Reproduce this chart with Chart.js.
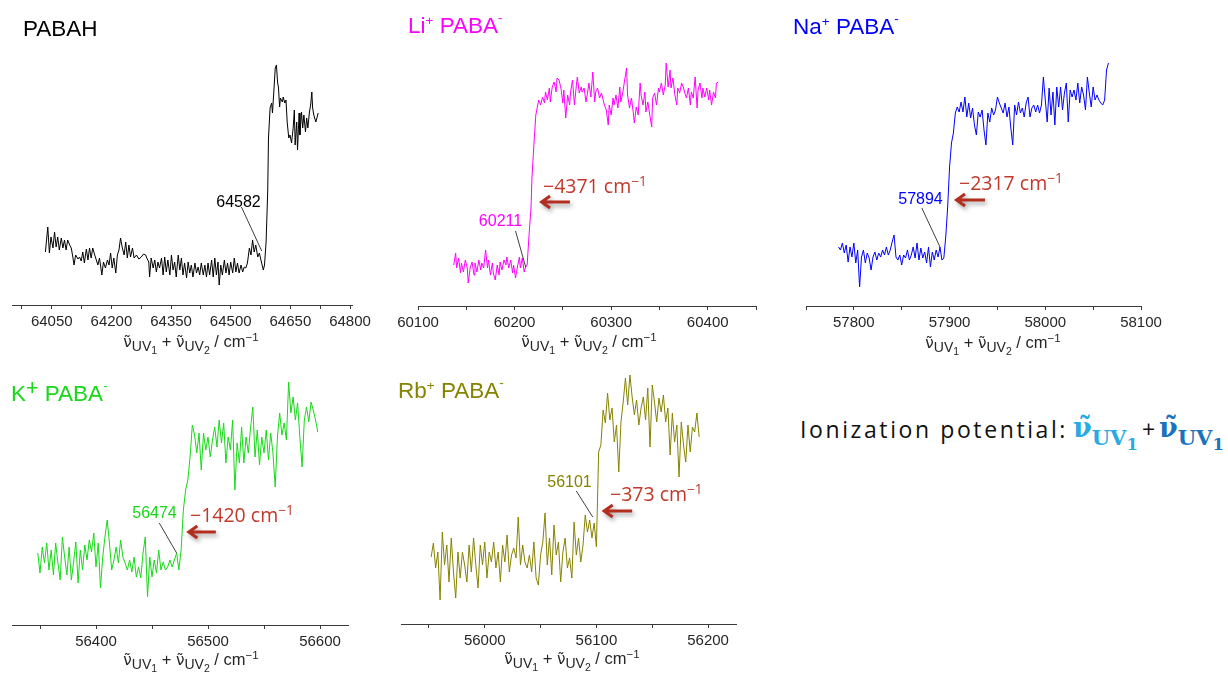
<!DOCTYPE html>
<html><head><meta charset="utf-8">
<script src="https://cdn.jsdelivr.net/npm/chart.js@4/dist/chart.umd.min.js"></script>
<style>
html,body{margin:0;padding:0;background:#fff;}
body{width:1228px;height:674px;overflow:hidden;position:relative;}
canvas{position:absolute;}
.t{position:absolute;white-space:nowrap;line-height:1;}
.t sup,.t sub{line-height:0;}
.ps{font-size:0.6em;vertical-align:0.62em;}
.pm{font-size:0.6em;vertical-align:0.8em;}
.pk{font-size:0.95em;vertical-align:0.3em;}
.nu{font-family:'DejaVu Sans',sans-serif;font-size:0.92em;}
.a1{font-size:0.85em;vertical-align:-0.28em;}
.a2{font-size:0.75em;vertical-align:-0.3em;}
.a3{font-size:0.7em;vertical-align:0.55em;}
.r3{font-size:0.7em;vertical-align:0.55em;}
.f1s{font-size:0.78em;vertical-align:-0.4em;}
.f2s{font-size:0.78em;vertical-align:-0.3em;}
</style></head><body>
<script>
// ---------------- data (x: wavenumber / cm^-1, y: ion signal, arb. units) ----------------
const pabahX = [64034,64040,64044,64048,64053,64057,64061,64065,64069,64074,64078,64082,64086,64090,64095,64099,64103,64106,64110,64116,64120,64124,64128,64132,64137,64141,64145,64149,64153,64158,64162,64166,64170,64176,64180,64185,64190,64194,64198,64202,64206,64211,64215,64219,64223,64227,64232,64236,64240,64244,64248,64253,64257,64263,64269,64275,64281,64286,64289,64294,64296,64300,64305,64309,64313,64317,64321,64326,64330,64334,64338,64342,64347,64351,64355,64359,64363,64368,64372,64376,64380,64384,64389,64393,64397,64401,64405,64410,64414,64418,64422,64426,64431,64435,64439,64443,64447,64452,64456,64460,64464,64468,64471,64475,64479,64484,64488,64492,64496,64500,64505,64509,64513,64517,64521,64526,64530,64534,64538,64542,64547,64551,64555,64559,64563,64568,64572,64576,64582,64585,64589,64593,64595,64599,64603,64605,64609,64612,64615,64618,64620,64623,64625,64630,64632,64636,64639,64642,64646,64649,64653,64657,64660,64662,64666,64668,64672,64674,64678,64681,64684,64688,64691,64694,64698,64701,64704,64706,64709,64714,64720];
const pabahY = [53,78,52,68,57,73,58,68,55,67,57,65,55,65,60,57,48,40,50,46,48,44,53,42,56,45,57,47,57,50,45,40,47,30,43,37,45,40,52,37,47,32,50,55,67,58,50,63,47,60,48,57,47,50,46,48,51,50,47,43,28,47,37,45,33,43,37,47,30,48,33,45,30,50,35,43,28,50,35,47,30,42,27,43,32,40,28,42,32,38,30,42,30,40,28,42,30,45,28,47,30,43,20,40,30,45,32,42,30,43,32,47,33,42,32,40,33,38,37,42,57,50,65,53,60,48,52,45,35,40,63,113,167,197,202,192,217,237,240,222,218,198,207,203,208,202,205,183,167,170,162,177,195,160,183,155,192,170,193,177,190,173,187,177,193,200,213,197,190,183,192];

const liX = [60137,60139,60140,60142,60144,60145,60147,60149,60151,60152,60154,60156,60158,60159,60161,60163,60165,60166,60168,60170,60172,60173,60175,60177,60178,60180,60182,60184,60185,60187,60189,60191,60192,60194,60196,60198,60199,60201,60203,60205,60206,60208,60210,60211,60213,60215,60217,60218,60220,60222,60224,60225,60227,60229,60231,60232,60234,60236,60237,60239,60241,60243,60244,60246,60248,60250,60251,60253,60255,60257,60258,60260,60262,60264,60265,60267,60269,60270,60272,60274,60276,60277,60279,60281,60283,60284,60286,60288,60290,60291,60293,60295,60297,60298,60300,60302,60303,60305,60307,60309,60310,60312,60314,60316,60317,60319,60321,60323,60324,60326,60328,60330,60331,60333,60335,60336,60338,60340,60342,60343,60345,60347,60349,60350,60352,60354,60356,60357,60359,60361,60362,60364,60366,60368,60369,60371,60373,60375,60376,60378,60380,60382,60383,60385,60387,60389,60390,60392,60394,60395,60397,60399,60401,60402,60404,60406,60408,60409,60411];
const liY = [41,53,38,48,33,43,34,46,38,23,38,44,31,43,34,46,36,43,38,56,38,46,31,43,33,26,41,31,44,36,46,41,49,38,46,33,41,28,39,49,38,48,34,38,41,71,98,128,161,191,201,206,201,209,203,214,206,218,204,219,224,214,228,226,218,203,216,188,211,201,214,226,201,221,229,213,219,214,218,204,216,223,209,234,204,214,218,208,213,209,201,196,181,201,191,208,201,211,198,219,204,213,226,238,211,198,208,193,183,199,191,223,211,201,214,194,204,191,179,208,213,201,218,214,223,211,221,243,219,236,218,228,211,201,218,213,223,218,214,208,218,201,214,208,229,198,216,223,208,218,209,218,206,216,201,214,208,223,224];

const naX = [57784,57786,57788,57790,57792,57794,57796,57798,57800,57802,57804,57806,57808,57810,57812,57814,57816,57818,57820,57822,57824,57826,57828,57830,57832,57834,57836,57838,57840,57842,57844,57846,57848,57850,57852,57854,57856,57858,57860,57862,57864,57866,57868,57870,57872,57874,57876,57878,57880,57882,57884,57886,57888,57890,57892,57894,57896,57898,57900,57902,57904,57906,57908,57910,57912,57914,57916,57918,57920,57922,57924,57926,57928,57930,57932,57934,57936,57938,57940,57942,57944,57946,57948,57950,57952,57954,57956,57958,57960,57962,57964,57966,57968,57970,57972,57974,57976,57978,57980,57982,57984,57986,57988,57990,57992,57994,57996,57998,58000,58002,58004,58006,58008,58010,58012,58014,58016,58018,58020,58022,58024,58026,58028,58030,58032,58034,58036,58038,58040,58042,58044,58046,58048,58050,58052,58054,58056,58058,58060,58062,58064,58066];
const naY = [59,56,63,53,61,44,59,49,63,43,56,19,49,56,43,53,48,36,49,54,46,53,49,56,51,59,51,56,64,71,49,46,51,41,51,48,56,46,51,59,48,63,46,58,48,54,43,59,39,54,46,56,49,59,46,48,69,99,139,163,173,193,199,194,204,194,209,189,203,188,198,181,171,194,189,196,176,161,193,184,198,191,196,209,203,198,193,203,189,199,178,161,201,191,204,193,198,189,203,209,189,198,201,194,201,193,201,229,206,184,218,191,214,181,219,199,219,196,213,223,184,216,209,216,206,223,203,219,211,196,229,213,199,219,206,211,206,203,201,206,236,243];

const kX = [56348,56350,56352,56354,56356,56358,56360,56362,56364,56366,56368,56370,56372,56374,56376,56378,56380,56382,56384,56386,56388,56390,56392,56394,56396,56398,56400,56402,56404,56406,56408,56410,56412,56414,56416,56418,56420,56422,56424,56426,56428,56430,56432,56434,56436,56438,56440,56442,56444,56446,56448,56450,56452,56454,56456,56458,56460,56462,56464,56466,56468,56470,56472,56474,56476,56478,56480,56482,56484,56486,56488,56490,56492,56494,56496,56498,56500,56502,56504,56506,56508,56510,56512,56514,56516,56518,56520,56522,56524,56526,56528,56530,56532,56534,56536,56538,56540,56542,56544,56546,56548,56550,56552,56554,56556,56558,56560,56562,56564,56566,56568,56570,56572,56574,56576,56578,56580,56582,56584,56586,56588,56590,56592,56594,56596,56598];
const kY = [72,52,78,62,82,55,75,50,82,62,45,88,68,50,78,45,63,83,42,75,55,80,65,85,73,92,58,82,37,68,88,105,82,55,65,78,62,85,68,62,55,65,53,68,48,58,47,72,88,28,68,48,65,52,75,55,63,55,58,65,58,65,72,55,75,115,135,145,168,200,190,172,192,155,192,175,188,168,185,198,178,205,182,202,162,188,175,205,135,182,162,198,162,188,172,197,218,168,195,160,188,172,195,165,192,172,138,188,212,190,202,185,243,212,228,205,222,188,158,205,218,203,223,215,205,193];

const rbX = [55952,55954,55956,55958,55960,55962,55964,55966,55968,55970,55972,55974,55976,55978,55980,55982,55984,55986,55988,55990,55992,55994,55996,55998,56000,56002,56004,56006,56008,56010,56012,56014,56016,56018,56020,56022,56024,56026,56028,56030,56032,56034,56036,56038,56040,56042,56044,56046,56048,56050,56052,56054,56056,56058,56060,56062,56064,56066,56068,56070,56072,56074,56076,56078,56080,56082,56084,56086,56088,56090,56092,56094,56096,56098,56100,56102,56104,56106,56108,56110,56112,56114,56116,56118,56120,56122,56124,56126,56128,56130,56132,56134,56136,56138,56140,56142,56144,56146,56148,56150,56152,56154,56156,56158,56160,56162,56164,56166,56168,56170,56172,56174,56176,56178,56180,56182,56184,56186,56188,56190,56192];
const rbY = [67,81,56,72,24,92,59,79,42,86,52,26,72,46,72,59,42,79,52,86,59,36,79,59,82,46,72,62,82,56,72,42,79,62,89,52,69,76,66,107,59,79,62,56,69,52,82,46,39,69,82,111,59,86,49,99,69,82,42,72,86,56,66,46,102,69,86,62,79,109,92,104,86,101,77,172,179,214,201,231,204,216,182,199,152,202,222,246,219,249,227,209,224,199,216,227,204,236,177,239,222,202,226,212,229,202,216,169,211,182,199,147,202,179,162,199,172,197,192,211,187];

// tick values and labelled ticks
const pabahTicks = [63975,64050,64125,64200,64275,64350,64425,64500,64575,64650,64725,64800];
const pabahLabels = [64050,64200,64350,64500,64650,64800];
const liTicks = [60100,60150,60200,60250,60300,60350,60400,60450];
const liLabels = [60100,60200,60300,60400];
const naTicks = [57750,57800,57850,57900,57950,58000,58050,58100];
const naLabels = [57800,57900,58000,58100];
const kTicks = [56350,56400,56450,56500,56550,56600];
const kLabels = [56400,56500,56600];
const rbTicks = [55950,56000,56050,56100,56150,56200];
const rbLabels = [56000,56100,56200];

// thresholds and shifts (text)
const thresholds = ['64582','60211','57894','56474','56101'];
const shifts = ['\u22124371','\u22122317','\u22121420','\u2212373'];

// ---------------- drawing ----------------
const PAD = 30, AXH = 30, YMAX = 270;

function markPlugin(m) {
  return {
    id: 'marks',
    afterDatasetsDraw(chart) {
      const ctx = chart.ctx, xs = chart.scales.x, ys = chart.scales.y;
      ctx.save();
      if (m.leader) {
        ctx.strokeStyle = '#2a2a2a'; ctx.lineWidth = 0.9;
        ctx.beginPath();
        ctx.moveTo(xs.getPixelForValue(m.leader[0]), ys.getPixelForValue(m.leader[1]));
        ctx.lineTo(xs.getPixelForValue(m.leader[2]), ys.getPixelForValue(m.leader[3]));
        ctx.stroke();
      }
      if (m.arrow) {
        const hx = xs.getPixelForValue(m.arrow[0]);
        const tx = xs.getPixelForValue(m.arrow[1]);
        const y = ys.getPixelForValue(m.arrow[2]);
        ctx.shadowColor = 'rgba(0,0,0,0.35)'; ctx.shadowBlur = 4;
        ctx.shadowOffsetX = 2; ctx.shadowOffsetY = 3;
        ctx.strokeStyle = '#b32e1e'; ctx.lineWidth = 3; ctx.lineJoin = 'miter';
        ctx.beginPath();
        ctx.moveTo(tx, y); ctx.lineTo(hx + 1.5, y);
        ctx.moveTo(hx + 10, y - 6); ctx.lineTo(hx + 1.5, y); ctx.lineTo(hx + 10, y + 6);
        ctx.stroke();
      }
      ctx.restore();
    }
  };
}

function makePanel(p) {
  const cw = p.right - p.left;
  const canvas = document.createElement('canvas');
  const w = cw + 2 * PAD, h = YMAX + AXH;
  canvas.width = w; canvas.height = h;
  canvas.style.left = (p.left - PAD) + 'px';
  canvas.style.top = (p.axisY - YMAX) + 'px';
  canvas.style.width = w + 'px'; canvas.style.height = h + 'px';
  document.body.appendChild(canvas);
  new Chart(canvas, {
    type: 'line',
    data: { datasets: [{
      data: p.x.map((v, i) => ({ x: v, y: p.y[i] })),
      borderColor: p.color, borderWidth: 1, pointRadius: 0, tension: 0, fill: false
    }] },
    options: {
      responsive: false, maintainAspectRatio: false, animation: false,
      layout: { padding: { left: PAD, right: PAD, top: 0, bottom: 0 } },
      plugins: { legend: { display: false }, tooltip: { enabled: false } },
      scales: {
        x: {
          type: 'linear', min: p.min, max: p.max,
          afterBuildTicks: ax => { ax.ticks = p.ticks.map(v => ({ value: v })); },
          afterFit: ax => { ax.height = AXH; },
          ticks: {
            autoSkip: false, maxRotation: 0, padding: 4, color: '#262626',
            font: { family: "'Liberation Sans', Arial, sans-serif", size: 15 },
            callback: v => p.labels.includes(v) ? String(v) : ''
          },
          grid: { drawOnChartArea: false, drawTicks: true, tickLength: 4, color: '#3a3a3a', lineWidth: 1 },
          border: { display: true, color: '#3a3a3a', width: 1 }
        },
        y: { display: false, min: 0, max: YMAX }
      }
    },
    plugins: [markPlugin(p.mark)]
  });
}

makePanel({ x: pabahX, y: pabahY, color: '#000000', min: 63950, max: 64805, left: 12, right: 352, axisY: 305,
  ticks: pabahTicks, labels: pabahLabels, mark: { leader: [64527, 98, 64578, 54] } });
makePanel({ x: liX, y: liY, color: '#ff00ff', min: 60100, max: 60450, left: 418, right: 756, axisY: 306,
  ticks: liTicks, labels: liLabels, mark: { leader: [60201, 75, 60211.5, 39], arrow: [60226.4, 60257.3, 104] } });
makePanel({ x: naX, y: naY, color: '#0000ff', min: 57750, max: 58100, left: 806, right: 1141, axisY: 306,
  ticks: naTicks, labels: naLabels, mark: { leader: [57871, 98, 57890, 59], arrow: [57905.7, 57937, 106] } });
makePanel({ x: kX, y: kY, color: '#18d818', min: 56325, max: 56625, left: 12, right: 348, axisY: 625,
  ticks: kTicks, labels: kLabels, mark: { leader: [56456.5, 102, 56472, 72], arrow: [56481.5, 56507, 93] } });
makePanel({ x: rbX, y: rbY, color: '#868300', min: 55925, max: 56225, left: 401, right: 736, axisY: 624,
  ticks: rbTicks, labels: rbLabels, mark: { leader: [56082, 133, 56096.7, 107], arrow: [56105.6, 56132, 113] } });

// ---------------- text ----------------
const mctx = document.createElement('canvas').getContext('2d');
function baseOff(family, size) {
  mctx.font = size + 'px ' + family;
  const m = mctx.measureText('Hg');
  const A = m.fontBoundingBoxAscent, D = m.fontBoundingBoxDescent;
  return (size - (A + D)) / 2 + A;
}
function addText(html, o) {
  const d = document.createElement('div');
  d.className = 't';
  d.innerHTML = html;
  d.style.fontFamily = o.family;
  d.style.fontSize = o.size + 'px';
  d.style.color = o.color || '#000';
  if (o.weight) d.style.fontWeight = o.weight;
  if (o.ls) d.style.letterSpacing = o.ls + 'px';
  d.style.top = (o.baseline - baseOff(o.family, o.size)) + 'px';
  d.style.left = o.x + 'px';
  if (o.align === 'center') d.style.transform = 'translateX(-50%)';
  document.body.appendChild(d);
  return d;
}
const LS = "'Liberation Sans', Arial, sans-serif";
const OS = "'Open Sans', 'Noto Sans', sans-serif";
const SR = "'DejaVu Serif', 'Liberation Serif', serif";

// panel titles
addText('PABAH', { x: 23, baseline: 36.7, size: 22.5, family: LS, color: '#000' });
addText('Li<sup class="ps">+</sup> PABA<sup class="pm">-</sup>', { x: 408, baseline: 33.3, size: 22.5, family: LS, color: '#ff00ff' });
addText('Na<sup class="ps">+</sup> PABA<sup class="pm">-</sup>', { x: 793, baseline: 35, size: 22.5, family: LS, color: '#0000ff' });
addText('K<sup class="pk">+</sup> PABA<sup class="pm">-</sup>', { x: 11, baseline: 401.7, size: 22.5, family: LS, color: '#18d818' });
addText('Rb<sup class="ps">+</sup> PABA<sup class="pm">-</sup>', { x: 398, baseline: 398.3, size: 22.5, family: LS, color: '#868300' });

// axis titles
const axisTitle = '<span class="nu">ν\u0303</span><sub class="a1">UV<sub class="a2">1</sub></sub> + <span class="nu">ν\u0303</span><sub class="a1">UV<sub class="a2">2</sub></sub> / cm<sup class="a3">\u22121</sup>';
[[191, 347.5], [589, 347.5], [993, 348], [191, 665.5], [572, 664.5]].forEach(([x, b]) =>
  addText(axisTitle, { x: x, baseline: b, size: 16.5, family: LS, color: '#262626', align: 'center' }));

// threshold labels
addText(thresholds[0], { x: 238.5, baseline: 207.5, size: 16, family: LS, color: '#000', align: 'center' });
addText(thresholds[1], { x: 500.5, baseline: 226.7, size: 16, family: LS, color: '#ff00ff', align: 'center' });
addText(thresholds[2], { x: 920.5, baseline: 204, size: 16, family: LS, color: '#0000ff', align: 'center' });
addText(thresholds[3], { x: 154.5, baseline: 518.3, size: 16, family: LS, color: '#18d818', align: 'center' });
addText(thresholds[4], { x: 569.5, baseline: 487.7, size: 16, family: LS, color: '#868300', align: 'center' });

// shift labels
const red = '#c0392b';
addText(shifts[0] + ' cm<sup class="r3">\u22121</sup>', { x: 543, baseline: 193, size: 19.5, family: OS, color: red });
addText(shifts[1] + ' cm<sup class="r3">\u22121</sup>', { x: 959, baseline: 190, size: 19.5, family: OS, color: red });
addText(shifts[2] + ' cm<sup class="r3">\u22121</sup>', { x: 190, baseline: 522.7, size: 19.5, family: OS, color: red });
addText(shifts[3] + ' cm<sup class="r3">\u22121</sup>', { x: 610, baseline: 501.7, size: 19.5, family: OS, color: red });

// ionization potential note
addText('Ionization potential:', { x: 800, baseline: 438, size: 23, ls: 2.6, family: OS, color: '#111' });
addText('ν\u0303<sub class="f1s">UV<sub class="f2s">1</sub></sub>', { x: 1073, baseline: 437, size: 27, family: SR, weight: 'bold', color: '#29abe2' });
addText('+', { x: 1142, baseline: 438, size: 23, family: OS, color: '#111' });
addText('ν\u0303<sub class="f1s">UV<sub class="f2s">1</sub></sub>', { x: 1159, baseline: 437, size: 27, family: SR, weight: 'bold', color: '#1b72bd' });
</script>
</body></html>
